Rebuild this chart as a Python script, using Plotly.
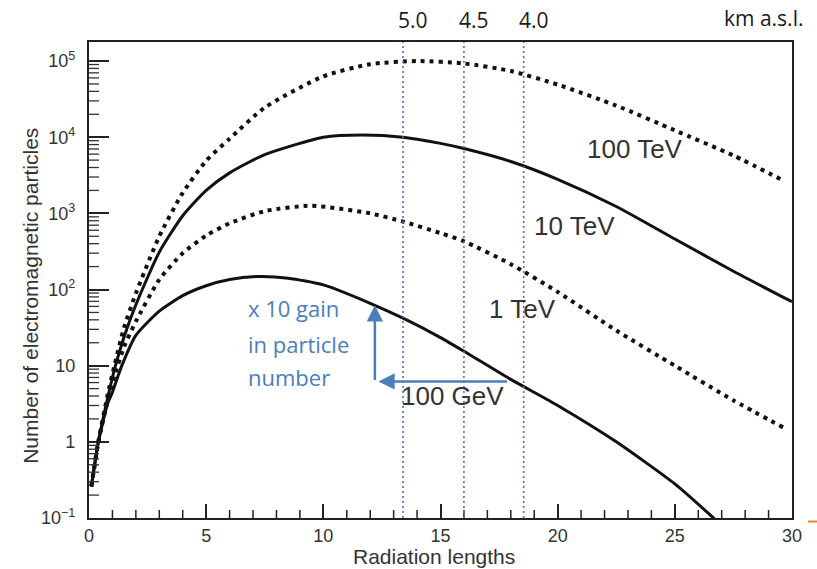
import numpy as np
import plotly.graph_objects as go

# Longitudinal shower profiles: depth in radiation lengths vs. particle count
x_100tev = [0.1, 0.4, 0.8, 1.1, 1.5, 2.0, 3.0, 4.0, 5.0, 6.0, 7.5, 10, 12, 14, 16, 18, 20, 22.5, 25, 27.5, 29.7]
n_100tev = [0.26, 1.0, 4.2, 10.5, 32, 89, 500, 1860, 4900, 9550, 24500, 63000, 91000, 100000, 93000,
            74000, 49000, 26000, 12300, 5750, 2630]

x_10tev = [0.1, 0.4, 0.8, 1.1, 1.5, 2.0, 3.0, 4.0, 5.0, 6.0, 7.5, 10, 11.7, 13.4, 15, 16, 18, 20, 22.5, 25, 27.5, 30]
n_10tev = [0.26, 1.0, 3.8, 9.3, 24, 63, 310, 930, 2000, 3400, 5900, 10000, 10700, 10000, 8300, 7100,
           4800, 2800, 1230, 460, 174, 69]

x_1tev = [0.1, 0.4, 0.8, 1.1, 1.5, 2.0, 3.0, 4.0, 5.0, 6.0, 7.5, 9.5, 12, 13.4, 15, 16, 18, 20, 22.5, 25, 27.5, 29.7]
n_1tev = [0.26, 1.0, 3.5, 7.6, 17.8, 38, 135, 300, 510, 740, 1070, 1260, 1000, 780, 550, 430,
          215, 93, 29, 10, 3.5, 1.5]

x_100gev = [0.1, 0.4, 0.8, 1.0, 1.4, 2.0, 3.0, 4.0, 5.0, 6.0, 7.2, 8.5, 10, 12, 13.4, 15, 16, 18, 20, 22.5, 25, 27]
n_100gev = [0.26, 1.0, 3.2, 4.5, 10, 25, 52, 83, 112, 135, 148, 141, 115, 66, 42, 23.4, 15.5,
            6.6, 3.0, 1.0, 0.28, 0.08]

energy_labels = ["100 TeV", "10 TeV", "1 TeV", "100 GeV"]
label_x = [23.3, 20.7, 18.5, 15.5]
label_n = [7000, 680, 55, 3.95]

# Observation altitudes (km a.s.l.) and the corresponding atmospheric depth
altitude_labels = ["5.0", "4.5", "4.0"]
altitude_depth = [13.4, 16.0, 18.55]

# 100 GeV shower: particle number at 4 km vs. the same number of radiation lengths at 5 km
gain_depth_from = 17.9
gain_depth_to = 12.2
gain_n_low = 6.2
gain_n_high = 62

y_tickvals = [0.1, 1, 10, 100, 1e3, 1e4, 1e5]
y_ticktext = ["10<sup>\u22121</sup>", "1", "10", "10<sup>2</sup>", "10<sup>3</sup>", "10<sup>4</sup>", "10<sup>5</sup>"]
y_minor_ticks = [k * 10.0 ** e for e in range(-1, 6) for k in range(2, 10)]
x_major_ticks = list(range(0, 31, 5))
x_minor_ticks = [v for v in range(0, 31) if v % 5]

X_RANGE = [0, 30]
Y_RANGE_LOG = [-1, 5.25]

W, H = 817, 569
MARGIN = dict(l=89, r=25, t=42, b=51)
PLOT_W = W - MARGIN["l"] - MARGIN["r"]
PLOT_H = H - MARGIN["t"] - MARGIN["b"]

INK = "#111111"
TICK = "#222222"
BLUE = "#4a7ebb"
AXIS_FONT = "Liberation Sans, Arial, sans-serif"
NOTE_FONT = "Open Sans, sans-serif"

fig = go.Figure()

dotted = dict(color=INK, width=4, dash="4px,5px", shape="spline", smoothing=0.6)
solid = dict(color=INK, width=3, shape="spline", smoothing=0.6)

fig.add_trace(go.Scatter(x=x_100tev, y=n_100tev, mode="lines", line=dotted, name="100 TeV"))
fig.add_trace(go.Scatter(x=x_10tev, y=n_10tev, mode="lines", line=solid, name="10 TeV"))
fig.add_trace(go.Scatter(x=x_1tev, y=n_1tev, mode="lines", line=dotted, name="1 TeV"))
fig.add_trace(go.Scatter(x=x_100gev, y=n_100gev, mode="lines", line=solid, name="100 GeV"))

# Minor inward tick marks along the bottom axis (every radiation length)
for v in x_minor_ticks:
    fig.add_shape(type="line", xref="x", yref="paper", x0=v, x1=v, y0=0, y1=8 / PLOT_H,
                  line=dict(color=TICK, width=1.5))

# Minor tick marks of the logarithmic axis
for v in y_minor_ticks:
    yp = (np.log10(v) - Y_RANGE_LOG[0]) / (Y_RANGE_LOG[1] - Y_RANGE_LOG[0])
    if 0 <= yp <= 1:
        fig.add_shape(type="line", xref="paper", yref="paper", x0=0, x1=10 / PLOT_W, y0=yp, y1=yp,
                      line=dict(color="#333333", width=1.3))

# Altitude markers
for d, lab in zip(altitude_depth, altitude_labels):
    fig.add_shape(type="line", xref="x", yref="paper", x0=d, x1=d, y0=0, y1=1,
                  line=dict(color="#4472c4", width=1.6, dash="2px,3px"), layer="above")
    fig.add_annotation(x=d, xref="x", y=1.046, yref="paper", text=lab, showarrow=False,
                       xshift=10, xanchor="center", yanchor="middle",
                       font=dict(family=NOTE_FONT, size=21, color="#1a1a1a"))
fig.add_annotation(x=0.959, xref="paper", y=1.05, yref="paper", text="km a.s.l.", showarrow=False,
                   xanchor="center", yanchor="middle",
                   font=dict(family=NOTE_FONT, size=21, color="#1a1a1a"))

# Curve labels
for lab, lx, ln in zip(energy_labels, label_x, label_n):
    fig.add_annotation(x=lx, y=np.log10(ln), xref="x", yref="y", text=lab, showarrow=False,
                       font=dict(family=AXIS_FONT, size=26, color="#333333"))

# Gain arrows
fig.add_annotation(x=gain_depth_to, y=np.log10(gain_n_high), ax=gain_depth_to, ay=np.log10(gain_n_low),
                   xref="x", yref="y", axref="x", ayref="y", text="", showarrow=True,
                   arrowhead=2, arrowsize=1.3, arrowwidth=2.5, arrowcolor=BLUE)
fig.add_annotation(x=gain_depth_to + 0.15, y=np.log10(gain_n_low), ax=gain_depth_from, ay=np.log10(gain_n_low),
                   xref="x", yref="y", axref="x", ayref="y", text="", showarrow=True,
                   arrowhead=2, arrowsize=1.3, arrowwidth=2.5, arrowcolor=BLUE)

for txt, ln in zip(["x 10 gain", "in particle", "number"], [57.8, 19.5, 7.2]):
    fig.add_annotation(x=6.68, y=np.log10(ln), xref="x", yref="y", text=txt, showarrow=False,
                       xanchor="left", font=dict(family=NOTE_FONT, size=22, color=BLUE))

# Axis titles placed as text
fig.add_annotation(x=-0.083, xref="paper", y=0.466, yref="paper", text="Number of electromagnetic particles",
                   textangle=-90, showarrow=False, xanchor="center", yanchor="middle",
                   font=dict(family=AXIS_FONT, size=21, color="#333333"))
fig.add_annotation(x=0.491, xref="paper", y=-0.081, yref="paper", text="Radiation lengths",
                   showarrow=False, xanchor="center", yanchor="middle",
                   font=dict(family=AXIS_FONT, size=21, color="#333333"))

# Small orange tick mark at the lower right
fig.add_shape(type="line", xref="paper", yref="paper", x0=1.0228, x1=1.0356, y0=-0.0074, y1=-0.0074,
              line=dict(color="#ed7d31", width=2))

fig.update_layout(
    width=W, height=H,
    margin=MARGIN,
    paper_bgcolor="white", plot_bgcolor="white",
    showlegend=False,
    font=dict(family=AXIS_FONT, color="#333333"),
    xaxis=dict(
        range=X_RANGE, showgrid=False, zeroline=False, automargin=False,
        showline=True, mirror=True, linecolor=TICK, linewidth=2.2,
        tickmode="array", tickvals=x_major_ticks, ticktext=[str(v) for v in x_major_ticks],
        ticks="inside", ticklen=14, tickwidth=2, tickcolor=TICK,
        tickfont=dict(size=18, color="#333333"),
    ),
    yaxis=dict(
        type="log", range=Y_RANGE_LOG, showgrid=False, zeroline=False, automargin=False,
        showline=True, mirror=True, linecolor=TICK, linewidth=2.2,
        tickmode="array", tickvals=y_tickvals, ticktext=y_ticktext,
        ticks="inside", ticklen=20, tickwidth=2, tickcolor=TICK,
        ticklabelstandoff=8,
        tickfont=dict(size=18, color="#333333"),
    ),
)

fig.write_html("out.html")
